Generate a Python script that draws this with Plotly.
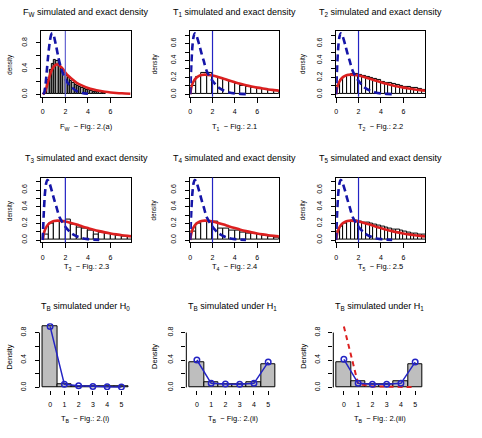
import plotly.graph_objects as go

W, H = 482, 438

# ---------------- data ----------------
# Panel 1: F_W
fw_bin_mid = [0.1, 0.3, 0.5, 0.7, 0.9, 1.1, 1.3, 1.5, 1.7, 1.9, 2.1, 2.3, 2.5, 2.7, 2.9,
              3.1, 3.3, 3.5, 3.7, 3.9, 4.1, 4.3, 4.5, 4.7, 4.9, 5.1, 5.3, 5.5]
fw_hist = [0.01, 0.08, 0.22, 0.38, 0.48, 0.53, 0.52, 0.47, 0.40, 0.34, 0.29, 0.25, 0.21, 0.18,
           0.15, 0.13, 0.11, 0.10, 0.085, 0.075, 0.065, 0.055, 0.045, 0.04, 0.035, 0.03, 0.025, 0.02]
fw_exact_x = [0, 0.2, 0.4, 0.6, 0.8, 1.0, 1.2, 1.4, 1.6, 1.8, 2.0, 2.25, 2.5, 3.0, 3.5,
              4.0, 4.5, 5.0, 5.5, 6.0, 6.5, 7.0, 7.75]
fw_exact_y = [0, 0.04, 0.15, 0.28, 0.38, 0.44, 0.465, 0.46, 0.43, 0.39, 0.34, 0.29, 0.25,
              0.18, 0.135, 0.10, 0.075, 0.055, 0.04, 0.03, 0.022, 0.016, 0.01]
fw_ref_x = [0.05, 0.15, 0.25, 0.35, 0.45, 0.55, 0.65, 0.75, 0.85, 0.95, 1.05, 1.2, 1.4, 1.6,
            1.8, 2.0, 2.2, 2.5, 3.0, 3.5, 4.0]
fw_ref_y = [0, 0.04, 0.16, 0.35, 0.55, 0.72, 0.85, 0.93, 0.95, 0.93, 0.86, 0.74, 0.56, 0.42,
            0.32, 0.24, 0.18, 0.12, 0.05, 0.02, 0.008]

# Panels 2-6: T1..T5
t_half_mid = [0.25, 0.75, 1.25, 1.75, 2.25, 2.75, 3.25, 3.75, 4.25, 4.75, 5.25, 5.75,
              6.25, 6.75, 7.25, 7.75]
t_third_mid = [0.167, 0.5, 0.833, 1.167, 1.5, 1.833, 2.167, 2.5, 2.833, 3.167, 3.5, 3.833,
               4.167, 4.5, 4.833, 5.167, 5.5, 5.833, 6.167, 6.5, 6.833, 7.167, 7.5, 7.833]
t1_hist = [0.10, 0.20, 0.25, 0.25, 0.21, 0.19, 0.17, 0.15, 0.12, 0.10, 0.09, 0.08, 0.07,
           0.06, 0.05, 0.04]
t2_hist = [0.10, 0.17, 0.21, 0.235, 0.24, 0.24, 0.23, 0.22, 0.205, 0.19, 0.18, 0.165, 0.15,
           0.14, 0.13, 0.12, 0.11, 0.10, 0.09, 0.085, 0.075, 0.07, 0.065, 0.055]
t3_hist = [0.06, 0.20, 0.22, 0.22, 0.24, 0.18, 0.15, 0.14, 0.11, 0.06, 0.09, 0.08, 0.07,
           0.05, 0.04, 0.04]
t4_hist = [0.10, 0.20, 0.22, 0.22, 0.22, 0.14, 0.14, 0.11, 0.11, 0.09, 0.08, 0.08, 0.06,
           0.05, 0.04, 0.03]
t5_hist = [0.10, 0.16, 0.20, 0.22, 0.23, 0.23, 0.225, 0.215, 0.21, 0.20, 0.19, 0.175, 0.16,
           0.15, 0.14, 0.13, 0.12, 0.11, 0.10, 0.09, 0.08, 0.075, 0.07, 0.06]
t_exact_x = [0, 0.1, 0.25, 0.5, 0.75, 1.0, 1.3, 1.6, 2.0, 2.5, 3.0, 3.5, 4.0, 4.5, 5.0, 5.5,
             6.0, 6.5, 7.0, 7.5, 8.0]
t_exact_y = [0, 0.08, 0.14, 0.19, 0.215, 0.228, 0.233, 0.23, 0.222, 0.205, 0.185, 0.163,
             0.143, 0.124, 0.107, 0.092, 0.079, 0.068, 0.058, 0.05, 0.043]
t_ref_x = [0, 0.1, 0.2, 0.3, 0.4, 0.5, 0.6, 0.8, 1.0, 1.2, 1.5, 2.0, 2.5, 3.0, 3.5, 4.0,
           4.5, 5.0]
t_ref_y = [0, 0.35, 0.57, 0.68, 0.72, 0.71, 0.68, 0.59, 0.49, 0.40, 0.27, 0.16, 0.085,
           0.045, 0.022, 0.011, 0.005, 0.002]
obs_value = 2.0

# Panels 7-9: T_B
tb_cats = [0, 1, 2, 3, 4, 5]
tb_h0_bar = [0.89, 0.04, 0.02, 0.015, 0.01, 0.01]
tb_h0_pts = [0.89, 0.045, 0.025, 0.015, 0.01, 0.008]
tb_h1a_bar = [0.37, 0.08, 0.05, 0.05, 0.08, 0.34]
tb_h1a_pts = [0.40, 0.06, 0.05, 0.045, 0.06, 0.37]
tb_h1b_bar = [0.37, 0.09, 0.04, 0.04, 0.09, 0.34]
tb_h1b_pts = [0.41, 0.06, 0.045, 0.045, 0.06, 0.37]
tb_h1b_ref = [0.89, 0.05, 0.015, 0.01, 0.008, 0.005]

titles = ["F<sub>W</sub> simulated and exact density",
          "T<sub>1</sub> simulated and exact density",
          "T<sub>2</sub> simulated and exact density",
          "T<sub>3</sub> simulated and exact density",
          "T<sub>4</sub> simulated and exact density",
          "T<sub>5</sub> simulated and exact density",
          "T<sub>B</sub> simulated under H<sub>0</sub>",
          "T<sub>B</sub> simulated under H<sub>1</sub>",
          "T<sub>B</sub> simulated under H<sub>1</sub>"]
xlabels = ["F<sub>W</sub>  \u2212 Fig.: 2.(a)",
           "T<sub>1</sub>  \u2212 Fig.: 2.1",
           "T<sub>2</sub>  \u2212 Fig.: 2.2",
           "T<sub>3</sub>  \u2212 Fig.: 2.3",
           "T<sub>4</sub>  \u2212 Fig.: 2.4",
           "T<sub>5</sub>  \u2212 Fig.: 2.5",
           "T<sub>B</sub>  \u2212 Fig.: 2.(i)",
           "T<sub>B</sub>  \u2212 Fig.: 2.(ii)",
           "T<sub>B</sub>  \u2212 Fig.: 2.(iii)"]

# ---------------- styling / layout ----------------
FONT = "Liberation Sans, Arial, Helvetica, sans-serif"
RED = "#dc2020"
DBLUE = "#1515a8"
VBLUE = "#2424c4"
LBLUE = "#6464d2"

cols12 = [(39, 130), (189, 278), (335.5, 425)]
cols3 = [(37.7, 130.5), (185.1, 277.9), (332.7, 425.5)]
rows = [(31, 97), (178, 243), (324, 390.8)]
ylab_x = [8, 153, 302.5]
title_y = [13, 159, 307]
xlab_y = [127, 268, 420]

fig = go.Figure()


def ax_name(i):
    return "" if i == 1 else str(i)


shapes = []
annotations = []
layout_axes = {}

hist_panels = [
    (fw_bin_mid, fw_hist, 0.2, "#a9a9a9", fw_exact_x, fw_exact_y, fw_ref_x, fw_ref_y),
    (t_half_mid, t1_hist, 0.5, "white", t_exact_x, t_exact_y, t_ref_x, t_ref_y),
    (t_third_mid, t2_hist, 1 / 3, "white", t_exact_x, t_exact_y, t_ref_x, t_ref_y),
    (t_half_mid, t3_hist, 0.5, "white", t_exact_x, t_exact_y, t_ref_x, t_ref_y),
    (t_half_mid, t4_hist, 0.5, "white", t_exact_x, t_exact_y, t_ref_x, t_ref_y),
    (t_third_mid, t5_hist, 1 / 3, "white", t_exact_x, t_exact_y, t_ref_x, t_ref_y),
]

TICKFONT = dict(size=7, family=FONT, color="black")

for k in range(9):
    i = k + 1
    r, c = divmod(k, 3)
    xs = ax_name(i)
    xref, yref = "x" + xs, "y" + xs
    cx = cols3[c] if r == 2 else cols12[c]
    ry = rows[r]
    xdom = [cx[0] / W, cx[1] / W]
    ydom = [1 - ry[1] / H, 1 - ry[0] / H]

    if r < 2:
        mids, hv, bw, fill, ex, ey, rx, rfy = hist_panels[k]
        fig.add_trace(go.Bar(x=mids, y=hv, width=bw, marker=dict(color=fill, line=dict(color="black", width=1)),
                             xaxis=xref, yaxis=yref, hoverinfo="skip"))
        fig.add_trace(go.Scatter(x=ex, y=ey, mode="lines", line=dict(color=RED, width=2.6, shape="spline", smoothing=0.8),
                                 xaxis=xref, yaxis=yref, hoverinfo="skip"))
        fig.add_trace(go.Scatter(x=rx, y=rfy, mode="lines",
                                 line=dict(color=DBLUE, width=2.6, dash="7px,4px", shape="spline", smoothing=0.8),
                                 xaxis=xref, yaxis=yref, hoverinfo="skip"))
        shapes.append(dict(type="line", xref=xref, yref=yref + " domain", x0=obs_value, x1=obs_value, y0=0, y1=1,
                           line=dict(color=LBLUE if k == 0 else VBLUE, width=1.2)))
        if k == 0:
            yr = [-0.038, 0.988]
            yt, ytt, ydt = [0, 0.4, 0.8], ["0.0", "0.4", "0.8"], 0.2
        else:
            yr = [-0.029, 0.749]
            yt, ytt, ydt = [0, 0.2, 0.4, 0.6], ["0.0", "0.2", "0.4", "0.6"], 0.1
        xr = [0, 7.95] if c > 0 else [-0.17, 7.85]
        xa = dict(domain=xdom, range=xr, anchor=yref, showline=True, mirror=True, linecolor="black", linewidth=1,
                  ticks="outside", ticklen=5, tickwidth=1, tickcolor="black", tickvals=[0, 2, 4, 6],
                  ticktext=["0", "2", "4", "6"], tickfont=TICKFONT, ticklabelstandoff=3,
                  showgrid=False, zeroline=False, fixedrange=True)
        ya = dict(domain=ydom, range=yr, anchor=xref, showline=True, mirror=True, linecolor="black", linewidth=1,
                  ticks="outside", ticklen=4, tickwidth=1, tickcolor="black", tickvals=yt, ticktext=ytt,
                  minor=dict(tick0=0, dtick=ydt, ticks="outside", ticklen=4, tickwidth=1, tickcolor="black",
                             showgrid=False),
                  tickangle=-90, tickfont=TICKFONT, ticklabelstandoff=6,
                  showgrid=False, zeroline=False, fixedrange=True)
        ylab = "density"
        ylab_size = 6.3
    else:
        bars, pts = [(tb_h0_bar, tb_h0_pts), (tb_h1a_bar, tb_h1a_pts), (tb_h1b_bar, tb_h1b_pts)][c]
        fig.add_trace(go.Bar(x=tb_cats, y=bars, width=1, marker=dict(color="#bebebe", line=dict(color="black", width=1)),
                             xaxis=xref, yaxis=yref, hoverinfo="skip"))
        if c == 2:
            fig.add_trace(go.Scatter(x=tb_cats, y=tb_h1b_ref, mode="lines",
                                     line=dict(color=RED, width=2, dash="5px,4px"),
                                     xaxis=xref, yaxis=yref, hoverinfo="skip"))
        fig.add_trace(go.Scatter(x=tb_cats, y=pts, mode="lines+markers",
                                 line=dict(color=VBLUE, width=1.5),
                                 marker=dict(symbol="circle-open", size=5.5, color=VBLUE, line=dict(width=1.5)),
                                 xaxis=xref, yaxis=yref, hoverinfo="skip"))
        shapes.append(dict(type="line", xref=xref + " domain", yref=yref, x0=0, x1=0, y0=0, y1=0.8,
                           line=dict(color="black", width=1)))
        xa = dict(domain=xdom, range=[-0.74, 5.74], anchor=yref, showline=False,
                  ticks="outside", ticklen=4, tickwidth=1, tickcolor="black", tickvals=tb_cats,
                  ticktext=[str(v) for v in tb_cats], tickfont=TICKFONT, ticklabelstandoff=4,
                  showgrid=False, zeroline=False, fixedrange=True)
        ya = dict(domain=ydom, range=[-0.036, 0.936], anchor=xref, showline=False,
                  ticks="outside", ticklen=4, tickwidth=1, tickcolor="black", tickvals=[0, 0.4, 0.8],
                  ticktext=["0.0", "0.4", "0.8"],
                  minor=dict(tickvals=[0.2, 0.6], ticks="outside", ticklen=4, tickwidth=1, tickcolor="black",
                             showgrid=False),
                  tickangle=-90, tickfont=TICKFONT, ticklabelstandoff=6,
                  showgrid=False, zeroline=False, fixedrange=True)
        ylab = "Density"
        ylab_size = 7.5

    layout_axes["xaxis" + xs] = xa
    layout_axes["yaxis" + xs] = ya

    cxm = (cx[0] + cx[1]) / 2
    annotations.append(dict(text=titles[k], x=cxm / W, y=1 - title_y[r] / H, xref="paper", yref="paper",
                            showarrow=False, xanchor="center", yanchor="middle",
                            font=dict(size=9, family=FONT, color="black")))
    annotations.append(dict(text=xlabels[k], x=cxm / W, y=1 - xlab_y[r] / H, xref="paper", yref="paper",
                            showarrow=False, xanchor="center", yanchor="middle",
                            font=dict(size=7.5, family=FONT, color="black")))
    annotations.append(dict(text=ylab, x=ylab_x[c] / W, y=1 - ((ry[0] + ry[1]) / 2) / H, xref="paper",
                            yref="paper", showarrow=False, xanchor="center", yanchor="middle", textangle=-90,
                            font=dict(size=ylab_size, family=FONT, color="black")))

fig.update_layout(width=W, height=H, margin=dict(l=0, r=0, t=0, b=0), showlegend=False,
                  paper_bgcolor="white", plot_bgcolor="white", bargap=0, barmode="overlay",
                  shapes=shapes, annotations=annotations, **layout_axes)

fig.write_html("out.html")
